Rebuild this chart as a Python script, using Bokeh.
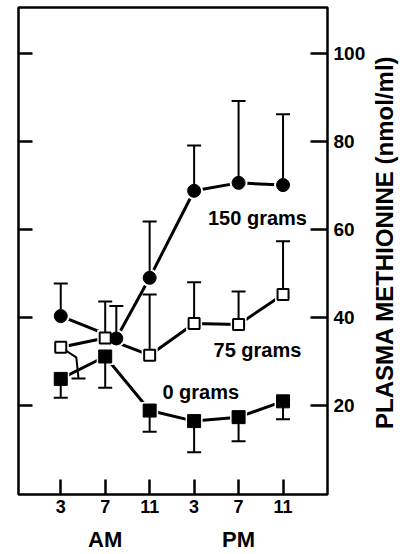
import math
from bokeh.plotting import figure
from bokeh.layouts import row
from bokeh.models import LinearAxis, FixedTicker, Range1d
from bokeh.embed import file_html
from bokeh.resources import INLINE
from bokeh.core.properties import value

# ---- data (hours of day; values in nmol/ml) ----
hours = [3, 7, 11, 15, 19, 23]
x_tick_labels = ["3", "7", "11", "3", "7", "11"]
ampm_pos = [7, 19]
ampm_labels = ["AM", "PM"]
y_ticks = [20, 40, 60, 80, 100]
y_title = "PLASMA METHIONINE (nmol/ml)"

g150_x = [3, 8, 11, 15, 19, 23]
g150_y = [40.3, 35.2, 49.0, 68.8, 70.6, 70.1]
g150_hi = [47.7, 42.6, 61.8, 79.1, 89.2, 86.2]

g75_x = [3, 7, 11, 15, 19, 23]
g75_y = [33.2, 35.3, 31.4, 38.6, 38.4, 45.2]
g75_hi = [None, 43.6, 45.2, 48.0, 45.9, 57.3]
# bent lower error bar drawn for 75 g at 3 AM
g75_bent_x = [3, 4.4, 4.6]
g75_bent_y = [33.2, 30.9, 26.1]

g0_x = [3, 7, 11, 15, 19, 23]
g0_y = [26.0, 31.1, 18.8, 16.4, 17.3, 20.9]
g0_lo = [21.7, 24.0, 14.0, 9.3, 11.8, 16.8]

series_labels = ["150 grams", "75 grams", "0 grams"]
label_x = [20.7, 20.7, 15.6]
label_y = [62.6, 32.6, 23.0]

FONT = "Liberation Sans"

p = figure(width=370, height=554, output_backend="svg", toolbar_location=None,
           x_range=Range1d(-0.8, 27.0), y_range=Range1d(-0.3, 110.5),
           min_border_left=18, min_border_right=43, min_border_top=7, min_border_bottom=59)
p.grid.visible = False
p.outline_line_color = "black"
p.outline_line_width = 2.5
p.background_fill_color = "white"
p.border_fill_color = "white"

# left axis: inward ticks, no labels
p.yaxis.ticker = FixedTicker(ticks=y_ticks)
p.yaxis.major_label_overrides = {t: "" for t in y_ticks}
p.yaxis.major_tick_in = 14
p.yaxis.major_tick_out = 0
p.yaxis.minor_tick_line_color = None
p.yaxis.major_tick_line_width = 2.5
p.yaxis.axis_line_color = None
p.yaxis.major_label_standoff = 0

# bottom axis
p.xaxis.ticker = FixedTicker(ticks=hours)
p.xaxis.major_label_overrides = {h: l for h, l in zip(hours, x_tick_labels)}
p.xaxis.major_tick_in = 15
p.xaxis.major_tick_out = 0
p.xaxis.minor_tick_line_color = None
p.xaxis.major_tick_line_width = 2.5
p.xaxis.axis_line_color = None
p.xaxis.major_label_standoff = 5
p.xaxis.major_label_text_font = FONT
p.xaxis.major_label_text_font_style = "bold"
p.xaxis.major_label_text_font_size = "18px"
p.xaxis.major_label_text_color = "black"

# AM / PM axis
ax2 = LinearAxis(ticker=FixedTicker(ticks=ampm_pos),
                 major_label_overrides={h: l for h, l in zip(ampm_pos, ampm_labels)})
ax2.major_tick_line_color = None
ax2.minor_tick_line_color = None
ax2.axis_line_color = None
ax2.major_tick_in = 0
ax2.major_tick_out = 0
ax2.major_label_standoff = 11
ax2.major_label_text_font = FONT
ax2.major_label_text_font_style = "bold"
ax2.major_label_text_font_size = "22px"
ax2.major_label_text_color = "black"
p.add_layout(ax2, "below")

# right axis with tick labels
ay = LinearAxis(ticker=FixedTicker(ticks=y_ticks))
ay.major_tick_in = 17
ay.major_tick_out = 0
ay.major_tick_line_width = 2.5
ay.minor_tick_line_color = None
ay.axis_line_color = None
ay.major_label_standoff = 6
ay.major_label_text_font = FONT
ay.major_label_text_font_style = "bold"
ay.major_label_text_font_size = "19px"
ay.major_label_text_color = "black"
p.add_layout(ay, "right")

# connecting lines
for xs, ys in [(g150_x, g150_y), (g75_x, g75_y), (g0_x, g0_y)]:
    p.line(xs, ys, line_color="black", line_width=3)

# white halos so lines stop short of markers
p.scatter(g150_x, g150_y, marker="circle", size=18, fill_color="white", line_color=None)
p.scatter(g75_x, g75_y, marker="square", size=16, fill_color="white", line_color=None)
p.scatter(g0_x, g0_y, marker="square", size=17, fill_color="white", line_color=None)

# error bars
def bars(xs, ys, ends):
    x0, y0, y1 = [], [], []
    for x, y, e in zip(xs, ys, ends):
        if e is None:
            continue
        x0.append(x); y0.append(y); y1.append(e)
    p.segment(x0, y0, x0, y1, line_color="black", line_width=2)
    p.scatter(x0, y1, marker="dash", size=14, line_color="black", line_width=2)

bars(g150_x, g150_y, g150_hi)
bars(g75_x, g75_y, g75_hi)
bars(g0_x, g0_y, g0_lo)
p.line(g75_bent_x, g75_bent_y, line_color="black", line_width=2)
p.scatter([g75_bent_x[-1]], [g75_bent_y[-1]], marker="dash", size=14, line_color="black", line_width=2)

# markers
p.scatter(g150_x, g150_y, marker="circle", size=13, fill_color="black", line_color="black")
p.scatter(g75_x, g75_y, marker="square", size=11, fill_color="white", line_color="black", line_width=2)
p.scatter(g0_x, g0_y, marker="square", size=13, fill_color="black", line_color="black")

# series labels
p.text(label_x, label_y, text=series_labels, text_align="center", text_baseline="middle",
       text_font=value(FONT), text_font_style="bold", text_font_size="20px", text_color="black")

# narrow strip holding the right-hand title, reading bottom to top
t = figure(width=30, height=554, output_backend="svg", toolbar_location=None,
           x_range=Range1d(0, 1), y_range=Range1d(0, 1),
           min_border_left=0, min_border_right=0, min_border_top=0, min_border_bottom=0)
t.axis.visible = False
t.grid.visible = False
t.outline_line_color = None
t.text([0.45], [0.518], text=[y_title], angle=math.pi / 2,
       text_align="center", text_baseline="middle",
       text_font=value(FONT), text_font_style="bold", text_font_size="24px", text_color="black")

layout = row(p, t, spacing=0)
open("out.html", "w").write(file_html(layout, INLINE))
